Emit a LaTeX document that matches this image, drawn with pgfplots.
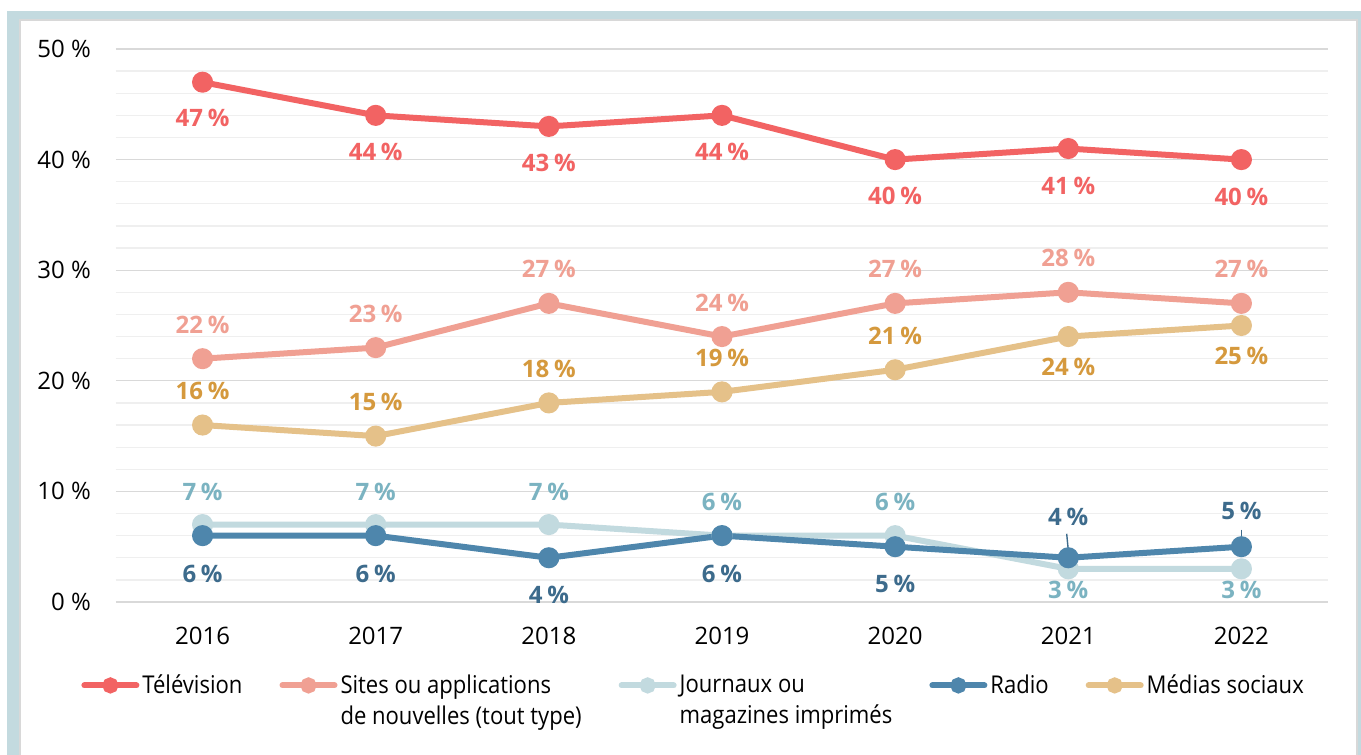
\documentclass[border=0pt]{standalone}
\usepackage{pgfplots}
\pgfplotsset{compat=1.18}
\usepackage{pgfplotstable}
\usepackage{fontspec}
\setmainfont{Open Sans}
\newfontfamily\legfont[FakeStretch=0.9]{Open Sans}

\definecolor{tvc}{HTML}{F26363}
\definecolor{sitec}{HTML}{F0A093}
\definecolor{jrnc}{HTML}{C2DADF}
\definecolor{jrnlab}{HTML}{7BB3C1}
\definecolor{radc}{HTML}{4E86AC}
\definecolor{radlab}{HTML}{3D6B8C}
\definecolor{medc}{HTML}{E5C189}
\definecolor{medlab}{HTML}{D5993D}
\definecolor{frameblue}{HTML}{C3DADF}
\definecolor{framegray}{HTML}{D8D8D8}
\definecolor{gridmaj}{HTML}{D9D9D9}
\definecolor{gridmin}{HTML}{EFEFEF}

\pgfplotstableread{
x y dy
0 47 -18
1 44 -18.5
2 43 -18.5
3 44 -18.5
4 40 -18
5 41 -18.5
6 40 -18.5
}\tv
\pgfplotstableread{
x y dy
0 22 17
1 23 17
2 27 17
3 24 17
4 27 17
5 28 17
6 27 17
}\sites
\pgfplotstableread{
x y dy
0 7 16.5
1 7 16.5
2 7 16.5
3 6 17
4 6 17
5 3 -10.5
6 3 -10.5
}\jrn
\pgfplotstableread{
x y dy
0 6 -19
1 6 -19
2 4 -18.5
3 6 -19
4 5 -18.5
5 4 20.5
6 5 18
}\radio
\pgfplotstableread{
x y dy
0 16 17
1 15 17
2 18 17
3 19 17
4 21 17
5 24 -15
6 25 -15
}\med

\pgfplotsset{
  ser/.style={color=#1, line width=3pt, mark=*, mark size=3.75pt, mark options={solid}},
  lab/.style={nodes near coords={\pgfmathprintnumber[assume math mode=true]{\pgfplotspointmeta}\hspace{0.2em}\%},
    point meta=explicit,
    visualization depends on={\thisrow{dy}\as\dy},
    every node near coord/.append style={font=\bfseries\fontsize{12}{14}\selectfont,
      text=#1, anchor=center, yshift=\dy pt}},
}

\begin{document}
\begin{tikzpicture}
\useasboundingbox (-58pt,-76.5pt) rectangle (622.5pt,301pt);
\fill[frameblue] (-54.5pt,-90pt) rectangle (640pt,295.5pt);
\filldraw[fill=white, draw=framegray, line width=0.6pt] (-48pt,-90pt) rectangle (620.5pt,291pt);
\begin{axis}[
  at={(0pt,0pt)}, anchor=south west,
  scale only axis, width=606pt, height=276.5pt,
  xmin=-0.5, xmax=6.5, ymin=0, ymax=50,
  xtick={0,...,6}, xticklabels={2016,2017,2018,2019,2020,2021,2022},
  ytick={0,10,...,50}, yticklabels={0 \%,10 \%,20 \%,30 \%,40 \%,50 \%},
  minor y tick num=4,
  ymajorgrids, yminorgrids,
  major grid style={color=gridmaj, line width=0.65pt},
  minor grid style={color=gridmin, line width=0.65pt},
  axis line style={draw=none},
  major tick length=0pt, minor tick length=0pt,
  tick label style={font=\fontsize{12}{14}\selectfont},
  yticklabel style={xshift=-9pt},
  xticklabel style={yshift=-9pt},
  clip=false,
  legend columns=5,
  legend cell align=left,
  legend style={at={(0.477,-0.116)}, anchor=north, draw=none, fill=none,
    font=\legfont\fontsize{12.25}{15.5}\selectfont,
    /tikz/every even column/.append style={column sep=17pt},
    nodes={inner xsep=1.5pt}},
  legend image code/.code={\draw[line width=3pt, line cap=round] (0pt,0pt) -- (26pt,0pt);
    \fill (13pt,0pt) circle (2.5pt);},
]
\addplot[ser=tvc, lab=tvc] table[x=x, y=y, meta=y]{\tv};
\addlegendentry{Télévision}
\addplot[ser=sitec, lab=sitec] table[x=x, y=y, meta=y]{\sites};
\addlegendentry{\vtop{\baselineskip=15.5pt\hbox{Sites ou applications}\hbox{de nouvelles (tout type)}}}
\addplot[ser=jrnc, lab=jrnlab] table[x=x, y=y, meta=y]{\jrn};
\addlegendentry{\vtop{\baselineskip=15.5pt\hbox{Journaux ou}\hbox{magazines imprimés}}}
\addplot[ser=radc, lab=radlab] table[x=x, y=y, meta=y]{\radio};
\addlegendentry{Radio}
\addplot[ser=medc, lab=medlab] table[x=x, y=y, meta=y]{\med};
\addlegendentry{Médias sociaux}
\draw[radlab, line width=0.7pt] ([shift={(-0.8pt,12pt)}]axis cs:5,4) -- ([shift={(0pt,3.8pt)}]axis cs:5,4);
\draw[radlab, line width=0.7pt] ([shift={(0pt,8.5pt)}]axis cs:6,5) -- ([shift={(0pt,3.8pt)}]axis cs:6,5);
\end{axis}
\end{tikzpicture}
\end{document}
